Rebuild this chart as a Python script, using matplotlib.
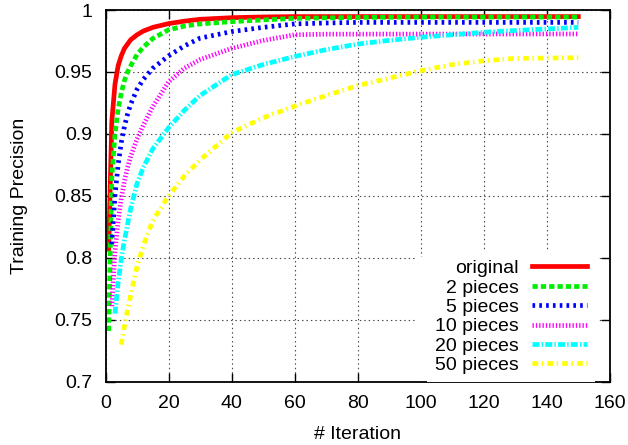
import matplotlib
matplotlib.use('Agg')
import matplotlib.pyplot as plt
from matplotlib.patches import Rectangle

plt.rcParams['font.family'] = ['Liberation Sans', 'DejaVu Sans']
plt.rcParams['lines.scale_dashes'] = False

# precision per iteration
it_original = [1, 2, 3, 4, 5, 6, 8, 10, 12, 15, 20, 25, 30, 40, 50, 60, 80, 100, 120, 150]
original = [0.807, 0.910, 0.940, 0.955, 0.963, 0.969, 0.976, 0.980, 0.983, 0.986,
            0.989, 0.991, 0.9925, 0.9938, 0.9944, 0.9947, 0.9947, 0.9947, 0.9947, 0.9947]

it_2 = [1, 2, 3, 4, 5, 6, 7, 8, 10, 12, 15, 20, 25, 30, 40, 50, 60, 80, 100, 150]
p2 = [0.741, 0.865, 0.900, 0.920, 0.933, 0.943, 0.950, 0.955, 0.964, 0.970, 0.977,
      0.984, 0.987, 0.9888, 0.9906, 0.992, 0.9933, 0.994, 0.9943, 0.9943]

it_5 = [2, 3, 4, 5, 6, 7, 8, 10, 12, 15, 20, 25, 30, 40, 50, 60, 70, 80, 150]
p5 = [0.811, 0.850, 0.875, 0.893, 0.906, 0.916, 0.924, 0.936, 0.944, 0.953, 0.963,
      0.971, 0.9773, 0.9826, 0.986, 0.9888, 0.9895, 0.990, 0.990]

it_10 = [2, 3, 4, 5, 6, 7, 8, 10, 12, 15, 20, 25, 30, 40, 50, 60, 70, 150]
p10 = [0.761, 0.805, 0.830, 0.848, 0.862, 0.873, 0.882, 0.896, 0.907, 0.922, 0.942,
       0.953, 0.960, 0.969, 0.9754, 0.980, 0.9805, 0.9807]

it_20 = [3, 4, 5, 6, 7, 8, 10, 12, 15, 20, 25, 30, 40, 50, 60, 70, 80, 90, 100,
         110, 120, 130, 140, 150]
p20 = [0.755, 0.780, 0.799, 0.814, 0.827, 0.840, 0.860, 0.873, 0.888, 0.905, 0.919,
       0.931, 0.9478, 0.956, 0.9625, 0.968, 0.9725, 0.9755, 0.978, 0.980, 0.982,
       0.9835, 0.9847, 0.986]

it_50 = [5, 6, 7, 8, 10, 12, 15, 20, 25, 30, 40, 50, 60, 70, 80, 90, 100, 110,
         120, 130, 140, 150]
p50 = [0.730, 0.745, 0.758, 0.770, 0.793, 0.810, 0.830, 0.850, 0.866, 0.879, 0.901,
       0.913, 0.9224, 0.931, 0.939, 0.945, 0.951, 0.956, 0.959, 0.961, 0.9612, 0.9615]

fig = plt.figure(figsize=(6.28, 4.45), dpi=100)
ax = fig.add_axes([0.168, 0.142, 0.803, 0.8355])

lw = 3.4
ax.plot(it_original, original, color='#ff0000', lw=lw, label='original')
ax.plot(it_2, p2, color='#00ee00', lw=lw, dashes=(3.8, 2.2), label='2 pieces')
ax.plot(it_5, p5, color='#0000ff', lw=lw, dashes=(1.9, 3.0), label='5 pieces')
ax.plot(it_10, p10, color='#ff00ff', lw=lw, dashes=(0.95, 1.45), label='10 pieces')
ax.plot(it_20, p20, color='#00ffff', lw=lw, dashes=(5.0, 1.6, 1.0, 1.6), label='20 pieces')
ax.plot(it_50, p50, color='#ffff00', lw=lw, dashes=(4.1, 2.6, 1.0, 3.0), label='50 pieces')

ax.set_xlim(0, 160)
ax.set_ylim(0.7, 1.0)
ax.set_xticks(range(0, 161, 20))
ax.set_yticks([0.7, 0.75, 0.8, 0.85, 0.9, 0.95, 1.0])
ax.set_yticklabels(['0.7', '0.75', '0.8', '0.85', '0.9', '0.95', '1'])
ax.tick_params(direction='in', length=6.5, width=1, top=True, right=True,
               labelsize=14, pad=9.5)
for s in ax.spines.values():
    s.set_linewidth(1.3)
ax.grid(True, color='#444444', linestyle=(0, (1, 2.2)), linewidth=0.8)
ax.set_axisbelow(True)

ax.set_xlabel('# Iteration', fontsize=14, labelpad=10)
ax.set_ylabel('Training Precision', fontsize=14, labelpad=19)

# white key area hides the grid like gnuplot's key box
ax.add_patch(Rectangle((0.615, 0.0), 0.362, 0.336, transform=ax.transAxes,
                       facecolor='white', edgecolor='none', zorder=1.5))

leg = ax.legend(loc='lower right', bbox_to_anchor=(0.970, 0.0), markerfirst=False,
                fontsize=14, handlelength=2.8, handletextpad=0.7, labelspacing=0.09,
                borderpad=0.4, borderaxespad=0.0, frameon=True, fancybox=False,
                framealpha=1.0, edgecolor='none', facecolor='white')
leg.set_zorder(5)

fig.savefig('out.png', dpi=100)
